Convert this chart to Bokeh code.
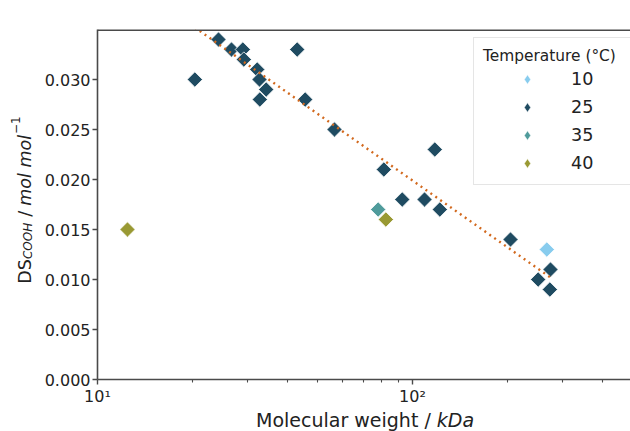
import math
from bokeh.plotting import figure
from bokeh.models import (FixedTicker, PrintfTickFormatter, Range1d, Span,
                          Label, Legend, LegendItem)
from bokeh.embed import file_html
from bokeh.resources import INLINE

# ---------------- data ----------------
temperatures = ["10", "25", "35", "40"]

mw_10 = [266.9]
ds_10 = [0.013]

mw_25 = [20.37, 24.22, 26.63, 28.93, 29.14, 32.14, 32.68, 34.32, 32.75, 43.05,
         45.64, 56.54, 81.1, 92.8, 109.2, 117.7, 122.1, 204.7, 250.6, 274.2, 272.9]
ds_25 = [0.030, 0.034, 0.033, 0.033, 0.032, 0.031, 0.030, 0.029, 0.028, 0.033,
         0.028, 0.025, 0.021, 0.018, 0.018, 0.023, 0.017, 0.014, 0.010, 0.011, 0.009]

mw_35 = [77.8]
ds_35 = [0.017]

mw_40 = [12.45, 82.3]
ds_40 = [0.015, 0.016]

trend_mw = [20.37, 274.2]
trend_ds = [0.0352, 0.0102]

x_major_ticks = [10, 100]
x_minor_ticks = [20, 30, 40, 50, 60, 70, 80, 90, 200, 300, 400]
x_tick_labels = {10: "10\u00b9", 100: "10\u00b2"}
y_ticks = [0.000, 0.005, 0.010, 0.015, 0.020, 0.025, 0.030]
y_max = 0.035

legend_title = "Temperature (\u00b0C)"
x_label_main = "Molecular weight / "
x_label_unit = "kDa"
y_label_main = "DS"
y_label_sub = "COOH"
y_label_slash = " / "
y_label_unit = "mol mol"
y_label_sup = "\u22121"

# ---------------- styles ----------------
colors = {"10": "#88ccee", "25": "#1f4b61", "35": "#4f9b9b", "40": "#999933"}
FONT = "DejaVu Sans"
AXIS_COLOR = "#4a4a4a"
TEXT_COLOR = "#222222"

# DejaVu Sans advance widths (em) for label layout
ADV = {' ': .3179, '/': .3369, 'D': .770, 'S': .6348, 'C': .6982, 'O': .7871,
       'H': .7520, 'm': .9741, 'o': .6118, 'l': .2778, '\u2212': .8379,
       '1': .6362, 'M': .8628, 'e': .6152, 'c': .5498, 'u': .6338, 'a': .6128,
       'r': .4111, 'w': .8179, 'i': .2778, 'g': .6348, 'h': .6338, 't': .3921,
       'k': .5791, '\u2003': 1.0, '\u200a': 0.1}


def text_w(s, size):
    return sum(ADV.get(ch, 0.6) for ch in s) * size


VIS_W, H = 630, 431
ML, MT, MB = 97, 29, 52
MR = 34            # side panel for the two small label pieces
W = VIS_W + MR
frame_w = VIS_W - ML
frame_h = H - MT - MB
decade_px = 315.0
Y_PER_PX = y_max / frame_h


def px_to_x(px):
    # frame-relative pixel offset -> data value on the log axis
    return 10 ** (1 + px / decade_px)


def px_to_y(py):
    return py * Y_PER_PX


p = figure(width=W, height=H, x_axis_type="log",
           x_range=Range1d(10, px_to_x(frame_w)),
           y_range=Range1d(0, y_max),
           min_border_left=ML, min_border_right=MR,
           min_border_top=MT, min_border_bottom=MB,
           toolbar_location=None, output_backend="svg",
           outline_line_color=None, background_fill_color="white",
           border_fill_color="white")
p.xgrid.visible = False
p.ygrid.visible = False

xa = p.xaxis[0]
ya = p.yaxis[0]
xa.ticker = FixedTicker(ticks=x_major_ticks, minor_ticks=x_minor_ticks)
xa.major_label_overrides = x_tick_labels
ya.ticker = FixedTicker(ticks=y_ticks, minor_ticks=[])
ya.formatter = PrintfTickFormatter(format="%.3f")
for ax in (xa, ya):
    ax.axis_line_color = AXIS_COLOR
    ax.axis_line_width = 1.6
    ax.major_tick_line_color = AXIS_COLOR
    ax.major_tick_line_width = 1.4
    ax.major_tick_out = 5
    ax.major_tick_in = 0
    ax.minor_tick_line_color = AXIS_COLOR
    ax.minor_tick_line_width = 1.1
    ax.minor_tick_out = 3
    ax.minor_tick_in = 0
    ax.major_label_text_font = FONT
    ax.major_label_text_font_size = "16px"
    ax.major_label_text_color = TEXT_COLOR
    ax.major_label_standoff = 2
    ax.axis_label = None
ya.minor_tick_line_color = None

# top spine
p.add_layout(Span(location=y_max, dimension="width", line_color=AXIS_COLOR,
                  line_width=3.2))

# ---------------- marks ----------------
series = [("10", mw_10, ds_10), ("25", mw_25, ds_25),
          ("35", mw_35, ds_35), ("40", mw_40, ds_40)]

# diamond renderers used as legend glyphs (hidden beneath the data markers)
legend_renderers = {}
for t, xs, ys in series:
    legend_renderers[t] = p.scatter(xs, ys, marker="diamond", size=8,
                                    fill_color=colors[t], line_color="white",
                                    line_width=0.6)

for t, xs, ys in series:
    p.scatter(xs, ys, marker="square", angle=math.pi / 4, size=10.8,
              fill_color=colors[t], line_color="white", line_width=0.8)

p.line(trend_mw, trend_ds, line_color="#d2691e", line_width=2.4,
       line_dash="2 4")

legend_items = [LegendItem(label=t, renderers=[legend_renderers[t]])
                for t in temperatures]

legend = Legend(items=legend_items, title=legend_title,
                location=(376, 194),
                title_text_font=FONT, title_text_font_size="15.4px",
                title_text_font_style="normal", title_text_color=TEXT_COLOR,
                title_standoff=2,
                label_text_font=FONT, label_text_font_size="17.6px",
                label_text_color=TEXT_COLOR,
                glyph_width=88, glyph_height=24, label_standoff=0,
                label_width=50, label_height=24, spacing=4, padding=9,
                margin=0, border_line_color="#cccccc", border_line_width=1,
                background_fill_color="white", background_fill_alpha=0.8)
p.add_layout(legend)


def add_label(side, x_px, y_px, text, size, style, angle=0.0):
    p.add_layout(Label(x=px_to_x(x_px), y=px_to_y(y_px), text=text,
                       angle=angle, text_font=FONT,
                       text_font_size=f"{size:.2f}px", text_font_style=style,
                       text_color=TEXT_COLOR, text_align="left",
                       text_baseline="alphabetic"), side)


# ---------------- x axis label ----------------
XL_SIZE = 19
axes_full_w = (math.log10(500) - 1) * decade_px
w_x_main = text_w(x_label_main, XL_SIZE)
w_x_unit = text_w(x_label_unit, XL_SIZE)
x0 = axes_full_w / 2.0 - (w_x_main + w_x_unit) / 2.0
add_label("above", x0, -40, x_label_main, XL_SIZE, "normal")
add_label("below", x0 + w_x_main, -40, x_label_unit, XL_SIZE, "italic")

# ---------------- y axis label (pieces) ----------------
YL = 17.5
YS = 12.0
w_main = text_w(y_label_main, YL)
w_sub = text_w(y_label_sub, YS)
w_slash = text_w(y_label_slash, YL)
w_unit = text_w(y_label_unit, YL)
w_sup = text_w(y_label_sup, YS)
total = w_main + w_sub + w_slash + w_unit + w_sup
y0 = frame_h / 2.0 - total / 2.0 + 4
BASE_X = -72.5
VERT = math.pi / 2
# "DS" + gap for the subscript + " / " in one upright text
gap = "\u2003\u2003\u200a"
add_label("left", BASE_X, y0, y_label_main + gap + y_label_slash, YL,
          "normal", VERT)
add_label("left", BASE_X, y0 + w_main + w_sub + w_slash, y_label_unit, YL,
          "italic", VERT)
add_label("right", BASE_X + 2.5, y0 + w_main, y_label_sub, YS, "italic", VERT)
add_label("right", BASE_X - 9.5, y0 + w_main + w_sub + w_slash + w_unit + 1,
          y_label_sup, YS, "normal", VERT)

open("out.html", "w").write(file_html(p, INLINE))
